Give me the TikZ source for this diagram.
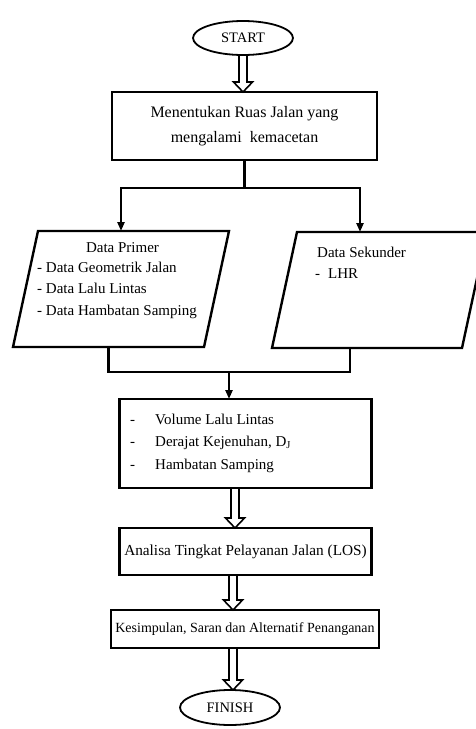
\documentclass[tikz,border=0pt]{standalone}
\usepackage{fontspec}
\setmainfont{Liberation Serif}
\usetikzlibrary{calc}
\usetikzlibrary{shapes.geometric}
\usetikzlibrary{arrows.meta}

\begin{document}
\begin{tikzpicture}[x=1pt,y=-1pt,
	box/.style={draw,rectangle,line width=2.4pt,inner sep=0pt,outer sep=0pt,align=center,font=\fontsize{15}{22.5}\selectfont},
	terminal/.style={draw,ellipse,line width=1.8pt,minimum width=100pt,minimum height=34pt,inner sep=0pt,outer sep=0pt,font=\fontsize{14.5}{17}\selectfont},
	databox/.style={rectangle,minimum width=191pt,minimum height=116pt,inner sep=0pt,outer sep=0pt},
	paraline/.style={line width=2.4pt},
	txt/.style={inner sep=0pt,align=left,font=\fontsize{15}{21.5}\selectfont},
	flow/.style={line width=2.2pt},
	flowarrow/.style={flow,-{Triangle[length=9pt,width=7pt]}},
	hollow/.style={line width=1.6pt,to path={let \p1=(\tikztostart),\p2=(\tikztotarget) in
		(\x1-4pt,\y1) -- (\x1-4pt,\y2+10pt) -- (\x1-9.5pt,\y2+10pt) -- (\x1,\y2)
		-- (\x1+9.5pt,\y2+10pt) -- (\x1+4pt,\y2+10pt) -- (\x1+4pt,\y1)}}]
\useasboundingbox (0,0) rectangle (476,729);
		% terminals and process boxes
		\node[terminal] (start) at (243,38) {START};
		\node[box,minimum width=265pt,minimum height=68pt,font=\fontsize{16}{25}\selectfont] (box1) at (244.5,126)
			{Menentukan Ruas Jalan yang\\mengalami\ \ kemacetan};
		\node[databox] (primer) at (121,289) {};
		\node[databox,minimum width=190pt] (sekunder) at (379.5,290) {};
		\foreach \para in {primer,sekunder}
			\draw[paraline] ([xshift=12.5pt]\para.north west) -- ([xshift=12.5pt]\para.north east)
				-- ([xshift=-12.5pt]\para.south east) -- ([xshift=-12.5pt]\para.south west) -- cycle;
		\node[box,minimum width=252pt,minimum height=89pt] (volume) at (245.5,443.5) {};
		\node[box,minimum width=252pt,minimum height=47pt,font=\fontsize{15.3}{22.5}\selectfont] (analisa) at (245.5,551.5)
			{Analisa Tingkat Pelayanan Jalan (LOS)};
		\node[box,minimum width=268pt,minimum height=38pt,font=\fontsize{14}{17}\selectfont] (kesimpulan) at (245,629)
			{Kesimpulan, Saran dan Alternatif Penanganan};
		\node[terminal,minimum height=35pt] (finish) at (230,707.5) {FINISH};
		% texts
		\node[txt] (primertitle) at (122.5,248) {Data Primer};
		\node[txt,anchor=west] (primerlist) at (37,290)
			{- Data Geometrik Jalan\\- Data Lalu Lintas\\- Data Hambatan Samping};
		\node[txt,anchor=west,font=\fontsize{15}{21}\selectfont] (sekundertext) at (315,262.5)
			{\hspace{2pt}Data Sekunder\\-\hspace{8pt}LHR};
		\node[txt,anchor=west,font=\fontsize{15}{22.5}\selectfont] (volumetext) at (130,443)
			{-\hspace{20pt}Volume Lalu Lintas\\-\hspace{20pt}Derajat Kejenuhan, D\textsubscript{J}\\-\hspace{20pt}Hambatan Samping};
		% connectors
		\path (box1.south) ++(0,28) coordinate (split);
		\coordinate (merge) at (229,372);
		\draw[flow] (box1.south) -- (split);
		\draw[flowarrow] (split) -| (primer.north);
		\draw[flowarrow] (split) -| ([xshift=-19.5pt]sekunder.north);
		\draw[flow] ([xshift=-12.5pt]primer.south) |- (merge) -| ([xshift=-29.5pt]sekunder.south);
		\draw[flowarrow] (merge) -- (volume.north -| merge);
		\draw[hollow] (start.south) to (box1.north);
		\draw[hollow] ([xshift=-10.5pt]volume.south) to (analisa.north);
		\draw[hollow] ([xshift=-12.5pt]analisa.south) to (kesimpulan.north);
		\draw[hollow] ([xshift=-12pt]kesimpulan.south) to (finish.north);
\end{tikzpicture}
\end{document}
